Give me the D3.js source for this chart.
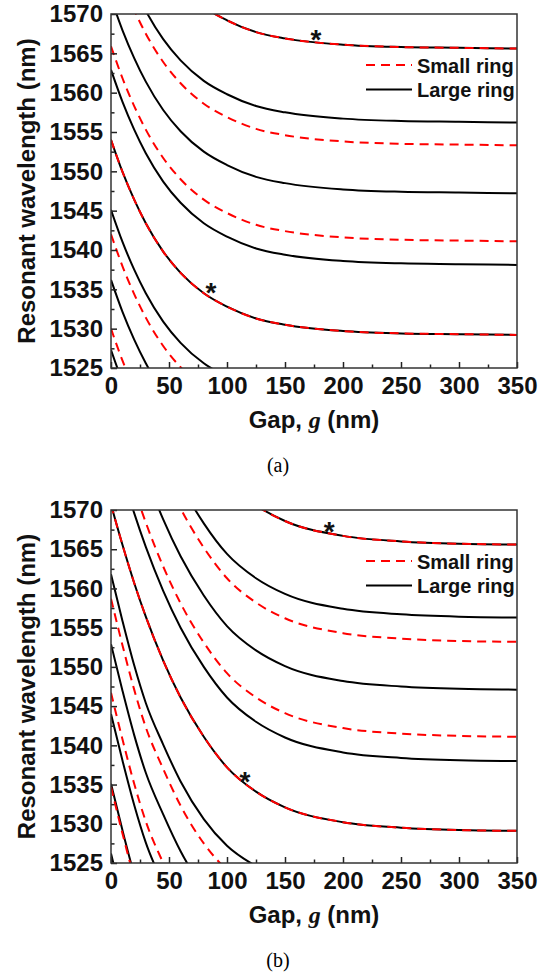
<!DOCTYPE html>
<html>
<head>
<meta charset="utf-8">
<script src="https://d3js.org/d3.v7.min.js"></script>
<style>
  body { margin: 0; background: #fff; }
  text { font-family: "Liberation Sans", Arial, sans-serif; }
</style>
</head>
<body>
<svg id="chart" width="556" height="975"></svg>
<script>
// gap values (nm) where every curve is sampled
const gaps = [0, 10, 20, 30, 45, 60, 80, 100, 125, 150, 200, 250, 300, 350];
const xTicks = [0, 50, 100, 150, 200, 250, 300, 350];
const yTicks = [1525, 1530, 1535, 1540, 1545, 1550, 1555, 1560, 1565, 1570];

// panel (a): resonant wavelength (nm) per mode
const largeRingA = [
  [1590.4, 1586.3, 1582.8, 1579.8, 1576.2, 1573.5, 1570.9, 1569.2, 1567.7, 1566.9, 1566.1, 1565.8, 1565.7, 1565.6],
  [1581.0, 1576.9, 1573.4, 1570.4, 1566.8, 1564.1, 1561.5, 1559.8, 1558.3, 1557.5, 1556.7, 1556.4, 1556.3, 1556.2],
  [1572.0, 1567.9, 1564.4, 1561.4, 1557.8, 1555.1, 1552.5, 1550.8, 1549.3, 1548.5, 1547.7, 1547.4, 1547.3, 1547.2],
  [1562.9, 1558.8, 1555.3, 1552.3, 1548.7, 1546.0, 1543.4, 1541.7, 1540.2, 1539.4, 1538.6, 1538.3, 1538.2, 1538.1],
  [1554.0, 1549.9, 1546.4, 1543.4, 1539.8, 1537.1, 1534.5, 1532.8, 1531.3, 1530.5, 1529.7, 1529.4, 1529.3, 1529.2],
  [1545.1, 1541.0, 1537.5, 1534.5, 1530.9, 1528.2, 1525.6, 1523.9, 1522.4, 1521.6, 1520.8, 1520.5, 1520.4, 1520.3],
  [1536.2, 1532.1, 1528.6, 1525.6, 1522.0, 1519.3, 1516.7, 1515.0, 1513.5, 1512.7, 1511.9, 1511.6, 1511.5, 1511.4],
  [1527.3, 1523.2, 1519.7, 1516.7, 1513.1, 1510.4, 1507.8, 1506.1, 1504.6, 1503.8, 1503.0, 1502.7, 1502.6, 1502.5]
];
const smallRingA = [
  [1590.4, 1586.3, 1582.8, 1579.8, 1576.2, 1573.5, 1570.9, 1569.2, 1567.7, 1566.9, 1566.1, 1565.8, 1565.7, 1565.6],
  [1578.1, 1574.0, 1570.5, 1567.5, 1563.9, 1561.2, 1558.6, 1556.9, 1555.4, 1554.6, 1553.8, 1553.5, 1553.4, 1553.3],
  [1565.9, 1561.8, 1558.3, 1555.3, 1551.7, 1549.0, 1546.4, 1544.7, 1543.2, 1542.4, 1541.6, 1541.3, 1541.2, 1541.1],
  [1554.0, 1549.9, 1546.4, 1543.4, 1539.8, 1537.1, 1534.5, 1532.8, 1531.3, 1530.5, 1529.7, 1529.4, 1529.3, 1529.2],
  [1542.0, 1537.9, 1534.4, 1531.4, 1527.8, 1525.1, 1522.5, 1520.8, 1519.3, 1518.5, 1517.7, 1517.4, 1517.3, 1517.2],
  [1530.0, 1525.9, 1522.4, 1519.4, 1515.8, 1513.1, 1510.5, 1508.8, 1507.3, 1506.5, 1505.7, 1505.4, 1505.3, 1505.2]
];

// panel (b)
const largeRingB = [
  [1607.2, 1602.0, 1597.2, 1592.9, 1587.3, 1582.6, 1577.6, 1573.7, 1570.6, 1568.6, 1566.7, 1566.0, 1565.7, 1565.6],
  [1597.9, 1592.7, 1587.9, 1583.6, 1578.0, 1573.3, 1568.3, 1564.4, 1561.3, 1559.3, 1557.4, 1556.7, 1556.4, 1556.3],
  [1588.7, 1583.5, 1578.7, 1574.4, 1568.8, 1564.1, 1559.1, 1555.2, 1552.1, 1550.1, 1548.2, 1547.5, 1547.2, 1547.1],
  [1579.6, 1574.4, 1569.6, 1565.3, 1559.7, 1555.0, 1550.0, 1546.1, 1543.0, 1541.0, 1539.1, 1538.4, 1538.1, 1538.0],
  [1570.7, 1565.5, 1560.7, 1556.4, 1550.8, 1546.1, 1541.1, 1537.2, 1534.1, 1532.1, 1530.2, 1529.5, 1529.2, 1529.1],
  [1561.8, 1555.8, 1550.2, 1545.4, 1540.1, 1535.4, 1530.6, 1527.2, 1524.6, 1522.9, 1521.2, 1520.6, 1520.3, 1520.2],
  [1552.9, 1546.9, 1541.3, 1536.5, 1531.2, 1526.5, 1521.7, 1518.3, 1515.7, 1514.0, 1512.3, 1511.7, 1511.4, 1511.3],
  [1544.0, 1538.0, 1532.4, 1527.6, 1522.3, 1517.6, 1512.8, 1509.4, 1506.8, 1505.1, 1503.4, 1502.8, 1502.5, 1502.4],
  [1535.1, 1529.1, 1523.5, 1518.7, 1513.4, 1508.7, 1503.9, 1500.5, 1497.9, 1496.2, 1494.5, 1493.9, 1493.6, 1493.5],
  [1526.2, 1520.2, 1514.6, 1509.8, 1504.5, 1499.8, 1495.0, 1491.6, 1489.0, 1487.3, 1485.6, 1485.0, 1484.7, 1484.6]
];
const smallRingB = [
  [1607.2, 1602.0, 1597.2, 1592.9, 1587.3, 1582.6, 1577.6, 1573.7, 1570.6, 1568.6, 1566.7, 1566.0, 1565.7, 1565.6],
  [1594.8, 1589.6, 1584.8, 1580.5, 1574.9, 1570.2, 1565.2, 1561.3, 1558.2, 1556.2, 1554.3, 1553.6, 1553.3, 1553.2],
  [1582.7, 1577.5, 1572.7, 1568.4, 1562.8, 1558.1, 1553.1, 1549.2, 1546.1, 1544.1, 1542.2, 1541.5, 1541.2, 1541.1],
  [1570.7, 1565.5, 1560.7, 1556.4, 1550.8, 1546.1, 1541.1, 1537.2, 1534.1, 1532.1, 1530.2, 1529.5, 1529.2, 1529.1],
  [1558.7, 1552.7, 1547.1, 1542.3, 1537.0, 1532.3, 1527.5, 1524.1, 1521.5, 1519.8, 1518.1, 1517.5, 1517.2, 1517.1],
  [1546.7, 1540.7, 1535.1, 1530.3, 1525.0, 1520.3, 1515.5, 1512.1, 1509.5, 1507.8, 1506.1, 1505.5, 1505.2, 1505.1],
  [1534.7, 1528.7, 1523.1, 1518.3, 1513.0, 1508.3, 1503.5, 1500.1, 1497.5, 1495.8, 1494.1, 1493.5, 1493.2, 1493.1]
];

// asterisks marking coincident resonances [gap, wavelength]
const starsA = [[176.7, 1567.7], [86.2, 1535.6]];
const starsB = [[188.0, 1568.2], [115.5, 1536.3]];

const legendLabels = ["Small ring", "Large ring"];

const svg = d3.select("#chart");
const left = 111, right = 517;

function drawPanel(id, top, bottom, large, small, stars, caption) {
  const x = d3.scaleLinear().domain([0, 350]).range([left, right]);
  const y = d3.scaleLinear().domain([1525, 1570]).range([bottom, top]);
  const g = svg.append("g");

  g.append("clipPath").attr("id", "clip" + id)
    .append("rect").attr("x", left).attr("y", top)
    .attr("width", right - left).attr("height", bottom - top);

  const line = d3.line()
    .x((d, i) => x(gaps[i]))
    .y(d => y(d))
    .curve(d3.curveMonotoneX);

  const plot = g.append("g").attr("clip-path", "url(#clip" + id + ")");
  plot.selectAll(".large").data(large).enter().append("path")
    .attr("d", line).attr("fill", "none")
    .attr("stroke", "#000").attr("stroke-width", 2);
  plot.selectAll(".small").data(small).enter().append("path")
    .attr("d", line).attr("fill", "none")
    .attr("stroke", "#ff0000").attr("stroke-width", 2)
    .attr("stroke-dasharray", "9,6");

  // minor ticks
  g.append("g").attr("transform", "translate(0," + bottom + ")")
    .call(d3.axisBottom(x).tickValues(d3.range(25, 350, 50)).tickSize(-3.5).tickFormat(""))
    .call(a => a.select(".domain").remove());
  g.append("g").attr("transform", "translate(" + left + ",0)")
    .call(d3.axisLeft(y).tickValues(d3.range(1527.5, 1570, 5)).tickSize(-3.5).tickFormat(""))
    .call(a => a.select(".domain").remove());

  // major ticks
  const xa = g.append("g").attr("transform", "translate(0," + bottom + ")")
    .call(d3.axisBottom(x).tickValues(xTicks).tickSize(-6).tickPadding(9).tickFormat(d3.format("d")));
  const ya = g.append("g").attr("transform", "translate(" + left + ",0)")
    .call(d3.axisLeft(y).tickValues(yTicks).tickSize(-6).tickPadding(8).tickFormat(d3.format("d")));
  [xa, ya].forEach(a => {
    a.select(".domain").remove();
    a.selectAll("text").attr("font-size", 24).attr("font-weight", "bold")
      .attr("fill", "#111").style("font-family", "'Liberation Sans', Arial, sans-serif");
  });
  g.selectAll(".tick line").attr("stroke", "#222").attr("stroke-width", 1.5);

  // frame
  g.append("rect").attr("x", left).attr("y", top)
    .attr("width", right - left).attr("height", bottom - top)
    .attr("fill", "none").attr("stroke", "#333").attr("stroke-width", 1.5);

  // axis titles
  g.append("text")
    .attr("transform", "translate(35," + (top + bottom) / 2 + ") rotate(-90)")
    .attr("text-anchor", "middle").attr("font-size", 24).attr("font-weight", "bold")
    .attr("fill", "#111").text("Resonant wavelength (nm)");
  const xt = g.append("text")
    .attr("x", (left + right) / 2).attr("y", bottom + 60)
    .attr("text-anchor", "middle").attr("font-size", 24).attr("font-weight", "bold")
    .attr("fill", "#111");
  xt.append("tspan").text("Gap, ");
  xt.append("tspan").style("font-family", "'Liberation Serif', 'Times New Roman', serif")
    .attr("font-style", "italic").text("g");
  xt.append("tspan").text(" (nm)");

  // legend
  const lg = g.append("g").attr("transform", "translate(0," + top + ")");
  [0, 1].forEach(i => {
    const ly = 51 + i * 24.5;
    lg.append("line").attr("x1", 366).attr("x2", 412).attr("y1", ly).attr("y2", ly)
      .attr("stroke", i === 0 ? "#ff0000" : "#000").attr("stroke-width", 2)
      .attr("stroke-dasharray", i === 0 ? "9,6" : null);
    lg.append("text").attr("x", 417).attr("y", ly + 7.5)
      .attr("font-size", 20).attr("font-weight", "bold").attr("fill", "#111")
      .text(legendLabels[i]);
  });

  // asterisks
  g.selectAll(".star").data(stars).enter().append("text")
    .attr("x", d => x(d[0])).attr("y", d => y(d[1]) + 17)
    .attr("text-anchor", "middle").attr("font-size", 28).attr("font-weight", "bold")
    .attr("fill", "#111").text("*");

  // caption
  g.append("text").attr("x", 278).attr("y", bottom + 104)
    .attr("text-anchor", "middle").attr("font-size", 20)
    .style("font-family", "'Liberation Serif', 'Times New Roman', serif")
    .attr("fill", "#000").text(caption);
}

drawPanel("a", 14, 368, largeRingA, smallRingA, starsA, "(a)");
drawPanel("b", 510, 863, largeRingB, smallRingB, starsB, "(b)");
</script>
</body>
</html>
